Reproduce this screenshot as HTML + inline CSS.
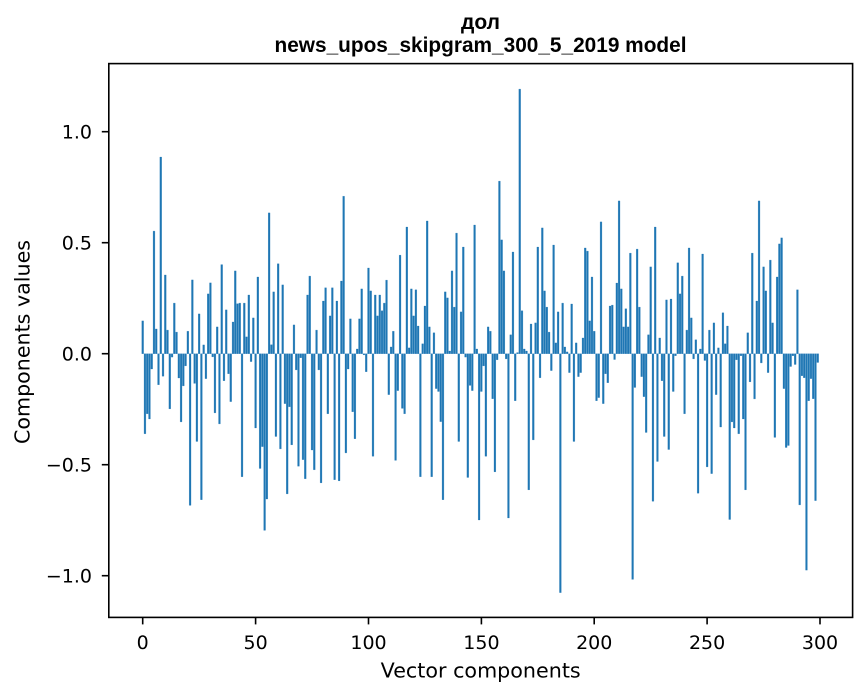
<!DOCTYPE html>
<html>
<head>
<meta charset="utf-8">
<style>
html,body{margin:0;padding:0;background:#fff;}
svg{display:block;}
.tk{font-family:"DejaVu Sans","Liberation Sans",sans-serif;font-size:19px;fill:#000;}
.lb{font-family:"DejaVu Sans","Liberation Sans",sans-serif;font-size:20.5px;fill:#000;}
.tt{font-family:"Liberation Sans","DejaVu Sans",sans-serif;font-size:21px;font-weight:bold;fill:#000;}
</style>
</head>
<body>
<svg width="867" height="696" viewBox="0 0 867 696" xmlns="http://www.w3.org/2000/svg">
<rect x="0" y="0" width="867" height="696" fill="#fff"/>
<g transform="matrix(2.2577 0 0 -225 142.7 353.7)">
<path fill="#1f77b4" stroke="#1f77b4" stroke-width="0.25" vector-effect="non-scaling-stroke" d="M-.4 0h.8V.146h-.8zM.6 0h.8V-.356h-.8zM1.6 0h.8V-.267h-.8zM2.6 0h.8V-.29h-.8zM3.6 0h.8V-.068h-.8zM4.6 0h.8V.545h-.8zM5.6 0h.8V.11h-.8zM6.6 0h.8V-.138h-.8zM7.6 0h.8V.874h-.8zM8.6 0h.8V-.1h-.8zM9.6 0h.8V.35h-.8zM10.6 0h.8V.105h-.8zM11.6 0h.8V-.245h-.8zM12.6 0h.8V-.015h-.8zM13.6 0h.8V.225h-.8zM14.6 0h.8V.096h-.8zM15.6 0h.8V-.108h-.8zM16.6 0h.8V-.303h-.8zM17.6 0h.8V-.143h-.8zM18.6 0h.8V-.054h-.8zM19.6 0h.8V.1h-.8zM20.6 0h.8V-.674h-.8zM21.6 0h.8V.328h-.8zM22.6 0h.8V-.132h-.8zM23.6 0h.8V-.39h-.8zM24.6 0h.8V.177h-.8zM25.6 0h.8V-.649h-.8zM26.6 0h.8V.039h-.8zM27.6 0h.8V-.111h-.8zM28.6 0h.8V.266h-.8zM29.6 0h.8V.315h-.8zM30.6 0h.8V-.014h-.8zM31.6 0h.8V-.263h-.8zM32.6 0h.8V.119h-.8zM33.6 0h.8V-.312h-.8zM34.6 0h.8V.396h-.8zM35.6 0h.8V-.12h-.8zM36.6 0h.8V.195h-.8zM37.6 0h.8V-.089h-.8zM38.6 0h.8V-.213h-.8zM39.6 0h.8V.141h-.8zM40.6 0h.8V.368h-.8zM41.6 0h.8V.222h-.8zM42.6 0h.8V.225h-.8zM43.6 0h.8V-.547h-.8zM44.6 0h.8V.225h-.8zM45.6 0h.8V.075h-.8zM46.6 0h.8V.261h-.8zM47.6 0h.8V-.035h-.8zM48.6 0h.8V.159h-.8zM49.6 0h.8V-.33h-.8zM50.6 0h.8V.341h-.8zM51.6 0h.8V-.51h-.8zM52.6 0h.8V-.413h-.8zM53.6 0h.8V-.785h-.8zM54.6 0h.8V-.646h-.8zM55.6 0h.8V.626h-.8zM56.6 0h.8V.04h-.8zM57.6 0h.8V.275h-.8zM58.6 0h.8V-.368h-.8zM59.6 0h.8V.4h-.8zM60.6 0h.8V-.423h-.8zM61.6 0h.8V.306h-.8zM62.6 0h.8V-.222h-.8zM63.6 0h.8V-.623h-.8zM64.6 0h.8V-.236h-.8zM65.6 0h.8V-.405h-.8zM66.6 0h.8V.128h-.8zM67.6 0h.8V-.072h-.8zM68.6 0h.8V-.5h-.8zM69.6 0h.8V-.018h-.8zM70.6 0h.8V-.471h-.8zM71.6 0h.8V-.556h-.8zM72.6 0h.8V.261h-.8zM73.6 0h.8V.345h-.8zM74.6 0h.8V-.428h-.8zM75.6 0h.8V-.516h-.8zM76.6 0h.8V.105h-.8zM77.6 0h.8V-.072h-.8zM78.6 0h.8V-.574h-.8zM79.6 0h.8V.234h-.8zM80.6 0h.8V.293h-.8zM81.6 0h.8V-.267h-.8zM82.6 0h.8V.168h-.8zM83.6 0h.8V.293h-.8zM84.6 0h.8V-.56h-.8zM85.6 0h.8V.234h-.8zM86.6 0h.8V-.565h-.8zM87.6 0h.8V.323h-.8zM88.6 0h.8V.70h-.8zM89.6 0h.8V-.441h-.8zM90.6 0h.8V-.068h-.8zM91.6 0h.8V.155h-.8zM92.6 0h.8V-.258h-.8zM93.6 0h.8V-.378h-.8zM94.6 0h.8V.021h-.8zM95.6 0h.8V.155h-.8zM96.6 0h.8V.288h-.8zM97.6 0h.8V-.005h-.8zM98.6 0h.8V-.08h-.8zM99.6 0h.8V.381h-.8zM100.6 0h.8V.279h-.8zM101.6 0h.8V-.456h-.8zM102.6 0h.8V.261h-.8zM103.6 0h.8V.168h-.8zM104.6 0h.8V.261h-.8zM105.6 0h.8V.191h-.8zM106.6 0h.8V.225h-.8zM107.6 0h.8V.327h-.8zM108.6 0h.8V-.182h-.8zM109.6 0h.8V.03h-.8zM110.6 0h.8V.1h-.8zM111.6 0h.8V-.474h-.8zM112.6 0h.8V-.164h-.8zM113.6 0h.8V.438h-.8zM114.6 0h.8V-.243h-.8zM115.6 0h.8V-.267h-.8zM116.6 0h.8V.563h-.8zM117.6 0h.8V.026h-.8zM118.6 0h.8V.288h-.8zM119.6 0h.8V.168h-.8zM120.6 0h.8V.284h-.8zM121.6 0h.8V.123h-.8zM122.6 0h.8V-.547h-.8zM123.6 0h.8V.044h-.8zM124.6 0h.8V.212h-.8zM125.6 0h.8V.59h-.8zM126.6 0h.8V.119h-.8zM127.6 0h.8V-.547h-.8zM128.6 0h.8V.093h-.8zM129.6 0h.8V-.155h-.8zM130.6 0h.8V-.168h-.8zM131.6 0h.8V-.302h-.8zM132.6 0h.8V-.649h-.8zM133.6 0h.8V.275h-.8zM134.6 0h.8V.248h-.8zM135.6 0h.8V.012h-.8zM136.6 0h.8V.368h-.8zM137.6 0h.8V.207h-.8zM138.6 0h.8V.536h-.8zM139.6 0h.8V-.39h-.8zM140.6 0h.8V.186h-.8zM141.6 0h.8V.474h-.8zM142.6 0h.8V-.015h-.8zM143.6 0h.8V-.55h-.8zM144.6 0h.8V-.141h-.8zM145.6 0h.8V-.164h-.8zM146.6 0h.8V.572h-.8zM147.6 0h.8V.021h-.8zM148.6 0h.8V-.739h-.8zM149.6 0h.8V-.168h-.8zM150.6 0h.8V-.054h-.8zM151.6 0h.8V-.456h-.8zM152.6 0h.8V.119h-.8zM153.6 0h.8V.1h-.8zM154.6 0h.8V-.2h-.8zM155.6 0h.8V-.525h-.8zM156.6 0h.8V-.027h-.8zM157.6 0h.8V.767h-.8zM158.6 0h.8V.506h-.8zM159.6 0h.8V.368h-.8zM160.6 0h.8V-.023h-.8zM161.6 0h.8V-.73h-.8zM162.6 0h.8V.084h-.8zM163.6 0h.8V.452h-.8zM164.6 0h.8V-.209h-.8zM165.6 0h.8V.005h-.8zM166.6 0h.8V1.176h-.8zM167.6 0h.8V.191h-.8zM168.6 0h.8V.021h-.8zM169.6 0h.8V.012h-.8zM170.6 0h.8V-.605h-.8zM171.6 0h.8V.132h-.8zM172.6 0h.8V-.383h-.8zM173.6 0h.8V.137h-.8zM174.6 0h.8V.474h-.8zM175.6 0h.8V-.107h-.8zM176.6 0h.8V.559h-.8zM177.6 0h.8V.279h-.8zM178.6 0h.8V.207h-.8zM179.6 0h.8V.096h-.8zM180.6 0h.8V-.075h-.8zM181.6 0h.8V.483h-.8zM182.6 0h.8V.048h-.8zM183.6 0h.8V.186h-.8zM184.6 0h.8V-1.062h-.8zM185.6 0h.8V.225h-.8zM186.6 0h.8V.03h-.8zM187.6 0h.8V.008h-.8zM188.6 0h.8V-.084h-.8zM189.6 0h.8V.221h-.8zM190.6 0h.8V-.39h-.8zM191.6 0h.8V.048h-.8zM192.6 0h.8V-.102h-.8zM193.6 0h.8V-.084h-.8zM194.6 0h.8V.07h-.8zM195.6 0h.8V.47h-.8zM196.6 0h.8V.456h-.8zM197.6 0h.8V.146h-.8zM198.6 0h.8V.341h-.8zM199.6 0h.8V.1h-.8zM200.6 0h.8V-.209h-.8zM201.6 0h.8V-.195h-.8zM202.6 0h.8V.586h-.8zM203.6 0h.8V-.222h-.8zM204.6 0h.8V-.089h-.8zM205.6 0h.8V-.129h-.8zM206.6 0h.8V.212h-.8zM207.6 0h.8V.216h-.8zM208.6 0h.8V-.026h-.8zM209.6 0h.8V.314h-.8zM210.6 0h.8V.679h-.8zM211.6 0h.8V.288h-.8zM212.6 0h.8V.119h-.8zM213.6 0h.8V.2h-.8zM214.6 0h.8V.119h-.8zM215.6 0h.8V.447h-.8zM216.6 0h.8V-1.003h-.8zM217.6 0h.8V-.15h-.8zM218.6 0h.8V.465h-.8zM219.6 0h.8V.207h-.8zM220.6 0h.8V-.102h-.8zM221.6 0h.8V-.191h-.8zM222.6 0h.8V-.35h-.8zM223.6 0h.8V.084h-.8zM224.6 0h.8V.386h-.8zM225.6 0h.8V-.656h-.8zM226.6 0h.8V.563h-.8zM227.6 0h.8V-.479h-.8zM228.6 0h.8V.07h-.8zM229.6 0h.8V-.12h-.8zM230.6 0h.8V-.368h-.8zM231.6 0h.8V.239h-.8zM232.6 0h.8V-.426h-.8zM233.6 0h.8V.243h-.8zM234.6 0h.8V-.168h-.8zM235.6 0h.8V-.009h-.8zM236.6 0h.8V.404h-.8zM237.6 0h.8V.266h-.8zM238.6 0h.8V.345h-.8zM239.6 0h.8V-.267h-.8zM240.6 0h.8V.105h-.8zM241.6 0h.8V.47h-.8zM242.6 0h.8V.159h-.8zM243.6 0h.8V-.023h-.8zM244.6 0h.8V.062h-.8zM245.6 0h.8V-.62h-.8zM246.6 0h.8V.021h-.8zM247.6 0h.8V.443h-.8zM248.6 0h.8V-.03h-.8zM249.6 0h.8V-.503h-.8zM250.6 0h.8V.105h-.8zM251.6 0h.8V-.533h-.8zM252.6 0h.8V.137h-.8zM253.6 0h.8V-.182h-.8zM254.6 0h.8V.026h-.8zM255.6 0h.8V-.326h-.8zM256.6 0h.8V.182h-.8zM257.6 0h.8V.044h-.8zM258.6 0h.8V.123h-.8zM259.6 0h.8V-.737h-.8zM260.6 0h.8V-.303h-.8zM261.6 0h.8V-.33h-.8zM262.6 0h.8V-.027h-.8zM263.6 0h.8V-.356h-.8zM264.6 0h.8V-.009h-.8zM265.6 0h.8V-.29h-.8zM266.6 0h.8V-.605h-.8zM267.6 0h.8V.093h-.8zM268.6 0h.8V-.125h-.8zM269.6 0h.8V.447h-.8zM270.6 0h.8V-.201h-.8zM271.6 0h.8V.234h-.8zM272.6 0h.8V.679h-.8zM273.6 0h.8V-.041h-.8zM274.6 0h.8V.386h-.8zM275.6 0h.8V.279h-.8zM276.6 0h.8V-.084h-.8zM277.6 0h.8V.416h-.8zM278.6 0h.8V.137h-.8zM279.6 0h.8V-.372h-.8zM280.6 0h.8V.341h-.8zM281.6 0h.8V.488h-.8zM282.6 0h.8V.515h-.8zM283.6 0h.8V-.155h-.8zM284.6 0h.8V-.417h-.8zM285.6 0h.8V-.408h-.8zM286.6 0h.8V-.057h-.8zM287.6 0h.8V-.009h-.8zM288.6 0h.8V-.048h-.8zM289.6 0h.8V.284h-.8zM290.6 0h.8V-.672h-.8zM291.6 0h.8V-.098h-.8zM292.6 0h.8V-.107h-.8zM293.6 0h.8V-.962h-.8zM294.6 0h.8V-.209h-.8zM295.6 0h.8V-.111h-.8zM296.6 0h.8V-.2h-.8zM297.6 0h.8V-.653h-.8zM298.6 0h.8V-.039h-.8z"/>
</g>
<!-- axes frame -->
<rect x="108.8" y="63.6" width="743.8" height="553.8" fill="none" stroke="#000" stroke-width="1.6"/>
<!-- y ticks -->
<g stroke="#000" stroke-width="1.6">
<line x1="101.8" y1="131.7" x2="108.8" y2="131.7"/>
<line x1="101.8" y1="242.7" x2="108.8" y2="242.7"/>
<line x1="101.8" y1="353.7" x2="108.8" y2="353.7"/>
<line x1="101.8" y1="464.7" x2="108.8" y2="464.7"/>
<line x1="101.8" y1="575.7" x2="108.8" y2="575.7"/>
</g>
<g class="tk" text-anchor="end">
<text x="92" y="138.7">1.0</text>
<text x="92" y="249.7">0.5</text>
<text x="92" y="360.7">0.0</text>
<text x="92" y="471.7">−0.5</text>
<text x="92" y="582.7">−1.0</text>
</g>
<!-- x ticks -->
<g stroke="#000" stroke-width="1.6">
<line x1="142.7" y1="617.4" x2="142.7" y2="624.4"/>
<line x1="255.6" y1="617.4" x2="255.6" y2="624.4"/>
<line x1="368.5" y1="617.4" x2="368.5" y2="624.4"/>
<line x1="481.4" y1="617.4" x2="481.4" y2="624.4"/>
<line x1="594.2" y1="617.4" x2="594.2" y2="624.4"/>
<line x1="707.1" y1="617.4" x2="707.1" y2="624.4"/>
<line x1="820.0" y1="617.4" x2="820.0" y2="624.4"/>
</g>
<g class="tk" text-anchor="middle">
<text x="142.7" y="649">0</text>
<text x="255.6" y="649">50</text>
<text x="368.5" y="649">100</text>
<text x="481.4" y="649">150</text>
<text x="594.2" y="649">200</text>
<text x="707.1" y="649">250</text>
<text x="820.0" y="649">300</text>
</g>
<!-- axis labels -->
<text class="lb" x="480.7" y="677.5" text-anchor="middle" textLength="200" lengthAdjust="spacingAndGlyphs">Vector components</text>
<text class="lb" transform="translate(29.5,342) rotate(-90)" text-anchor="middle" textLength="204" lengthAdjust="spacingAndGlyphs">Components values</text>
<!-- title -->
<text class="tt" x="480.5" y="29" text-anchor="middle">дол</text>
<text class="tt" x="480.5" y="52" text-anchor="middle" textLength="412" lengthAdjust="spacingAndGlyphs">news_upos_skipgram_300_5_2019 model</text>
</svg>
</body>
</html>
